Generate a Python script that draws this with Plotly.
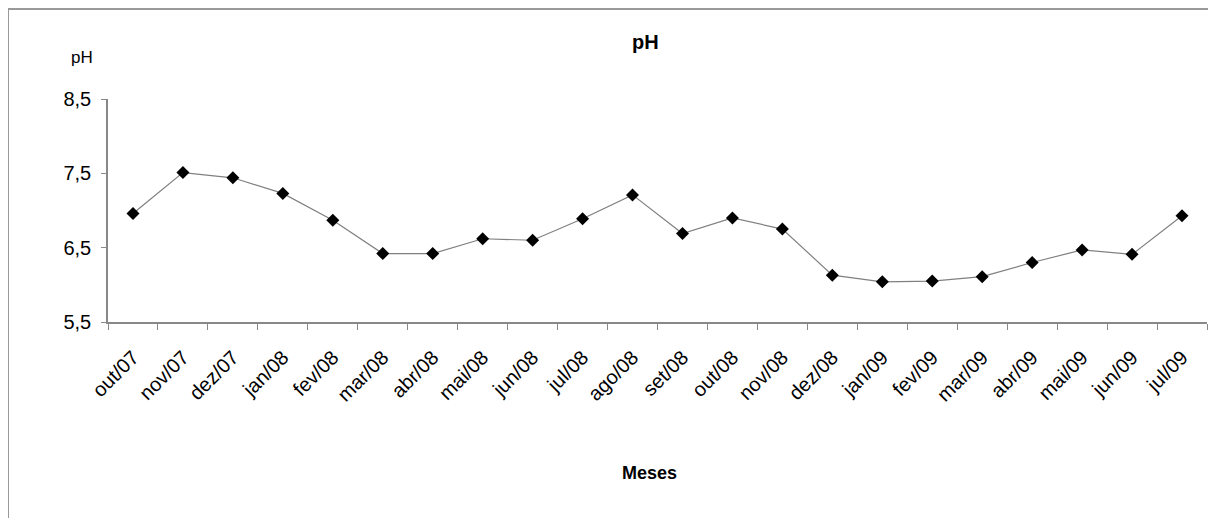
import plotly.graph_objects as go

months = ["out/07", "nov/07", "dez/07", "jan/08", "fev/08", "mar/08", "abr/08", "mai/08",
          "jun/08", "jul/08", "ago/08", "set/08", "out/08", "nov/08", "dez/08", "jan/09",
          "fev/09", "mar/09", "abr/09", "mai/09", "jun/09", "jul/09"]
ph_values = [6.96, 7.51, 7.44, 7.23, 6.87, 6.42, 6.42, 6.62, 6.60, 6.89, 7.21, 6.69,
             6.90, 6.75, 6.13, 6.04, 6.05, 6.11, 6.30, 6.47, 6.41, 6.93]
y_ticks = [5.5, 6.5, 7.5, 8.5]

# page body has an 8px margin; figure sized to fit inside the window
OFF = 8
W, H = 1200, 510
L = 108 - OFF
T = 99 - OFF
plot_bottom = 322 - OFF
plot_right = 1207 - OFF
R = W - plot_right
B = H - plot_bottom
pw = plot_right - L
ph = plot_bottom - T


def px(x):
    return (x - OFF - L) / pw


def py(y):
    return (plot_bottom - (y - OFF)) / ph


fig = go.Figure()
fig.add_trace(go.Scatter(
    x=months, y=ph_values, mode="lines+markers",
    line=dict(color="#808080", width=1.2),
    marker=dict(symbol="diamond", size=10, color="black"),
    showlegend=False,
))

fig.update_layout(
    width=W, height=H,
    margin=dict(l=L, r=R, t=T, b=B, autoexpand=False),
    paper_bgcolor="white", plot_bgcolor="white",
    separators=",.",
    font=dict(family="Liberation Sans, Arial, sans-serif", color="black"),
    xaxis=dict(
        type="category", range=[-0.5, len(months) - 0.5], autorange=False,
        showgrid=False, zeroline=False,
        showline=True, linecolor="#888888", linewidth=1.5,
        ticks="outside", tickson="boundaries", ticklen=6, tickcolor="#888888",
        tickangle=-45, tickfont=dict(size=20), ticklabelstandoff=14,
    ),
    yaxis=dict(
        range=[5.5, 8.5], tickvals=y_ticks, tickformat=".1f",
        showgrid=False, zeroline=False,
        showline=True, linecolor="#888888", linewidth=1.5,
        ticks="outside", ticklen=5, tickcolor="#888888",
        tickfont=dict(size=20), ticklabelstandoff=6,
    ),
    shapes=[
        dict(type="line", xref="paper", yref="paper",
             x0=px(7), x1=px(1216), y0=py(9), y1=py(9),
             line=dict(color="#999999", width=2)),
        dict(type="line", xref="paper", yref="paper",
             x0=px(8), x1=px(8), y0=py(9), y1=py(526),
             line=dict(color="#999999", width=2)),
    ],
    annotations=[
        dict(text="<b>pH</b>", xref="paper", yref="paper", x=px(645), y=py(42),
             showarrow=False, font=dict(size=20), xanchor="center", yanchor="middle"),
        dict(text="pH", xref="paper", yref="paper", x=px(82), y=py(58),
             showarrow=False, font=dict(size=17), xanchor="center", yanchor="middle"),
        dict(text="<b>Meses</b>", xref="paper", yref="paper", x=px(649), y=py(473),
             showarrow=False, font=dict(size=18), xanchor="center", yanchor="middle"),
    ],
)

fig.write_html("out.html")
